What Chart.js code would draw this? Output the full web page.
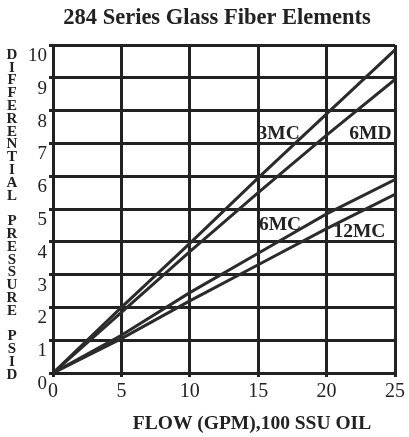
<!DOCTYPE html>
<html>
<head>
<meta charset="utf-8">
<script src="https://cdn.jsdelivr.net/npm/chart.js@4/dist/chart.umd.min.js"></script>
<style>
html,body{margin:0;padding:0;background:#fff;}
#wrap{width:409px;height:437px;position:relative;}
</style>
</head>
<body>
<div id="wrap"><canvas id="c" width="409" height="437"></canvas></div>
<script>
// ---- data ----
const titleText = "284 Series Glass Fiber Elements";
const xTitle = "FLOW (GPM),100 SSU OIL";
const yTitle = "DIFFERENTIAL PRESSURE PSID";
const flow = [0, 5, 10, 15, 20, 25];
const s3MC  = [0, 2.0, 3.95, 5.95, 7.9, 9.85];
const s6MD  = [0, 1.85, 3.7, 5.5, 7.25, 8.95];
const s6MC  = [0, 1.15, 2.45, 3.65, 4.85, 5.9];
const s12MC = [0, 1.05, 2.2, 3.3, 4.4, 5.45];
const seriesNames = ["3MC", "6MD", "6MC", "12MC"];
const labelX = [16.5, 23.2, 16.6, 22.4];
const labelY = [7.3, 7.3, 4.5, 4.3];

const allSeries = [s3MC, s6MD, s6MC, s12MC];
const ink = '#222';

const datasets = allSeries.map((s, i) => ({
  label: seriesNames[i],
  data: flow.map((f, j) => ({x: f, y: s[j]})),
  borderColor: '#2b2b2b',
  borderWidth: 3,
  pointRadius: 0,
  fill: false,
  tension: 0
}));

const textPlugin = {
  id: 'texts',
  beforeDatasetsDraw(chart) {
    const ctx = chart.ctx;
    const xs = chart.scales.x, ys = chart.scales.y;
    ctx.save();
    ctx.fillStyle = ink;
    ctx.font = 'bold 19.5px "Liberation Serif"';
    ctx.textAlign = 'center';
    ctx.textBaseline = 'middle';
    seriesNames.forEach((n, i) => {
      ctx.fillText(n, xs.getPixelForValue(labelX[i]), ys.getPixelForValue(labelY[i]));
    });
    ctx.restore();
  },
  afterDraw(chart) {
    const ctx = chart.ctx;
    ctx.save();
    ctx.fillStyle = ink;
    ctx.textAlign = 'center';
    ctx.textBaseline = 'middle';
    ctx.font = 'bold 22.5px "Liberation Serif"';
    ctx.fillText(titleText, 217, 18);
    ctx.font = 'bold 19.5px "Liberation Serif"';
    ctx.fillText(xTitle, 252, 424);
    ctx.font = 'bold 15px "Liberation Serif"';
    const letters = yTitle.split('');
    letters.forEach((ch, i) => {
      if (ch !== ' ') ctx.fillText(ch, 12, 55 + i * 12.8);
    });
    ctx.restore();
  }
};

new Chart(document.getElementById('c'), {
  type: 'line',
  data: { datasets },
  options: {
    responsive: false,
    animation: false,
    devicePixelRatio: 1,
    layout: { padding: { top: 45, right: 14, left: 0, bottom: 0 } },
    plugins: { legend: { display: false }, title: { display: false }, tooltip: { enabled: false } },
    scales: {
      x: {
        type: 'linear', min: 0, max: 25,
        afterFit(s) { s.height = 64; },
        ticks: { stepSize: 5, color: ink, padding: 3, font: { family: '"Liberation Serif"', size: 20 } },
        grid: { color: ink, lineWidth: 3, tickLength: 4 },
        border: { display: true, color: ink, width: 3 }
      },
      y: {
        type: 'linear', min: 0, max: 10,
        afterFit(s) { s.width = 53; },
        ticks: { stepSize: 1, color: ink, padding: 2, labelOffset: 11, font: { family: '"Liberation Serif"', size: 19 } },
        grid: { color: ink, lineWidth: 3, tickLength: 4 },
        border: { display: true, color: ink, width: 3 }
      }
    }
  },
  plugins: [textPlugin]
});
</script>
</body>
</html>
